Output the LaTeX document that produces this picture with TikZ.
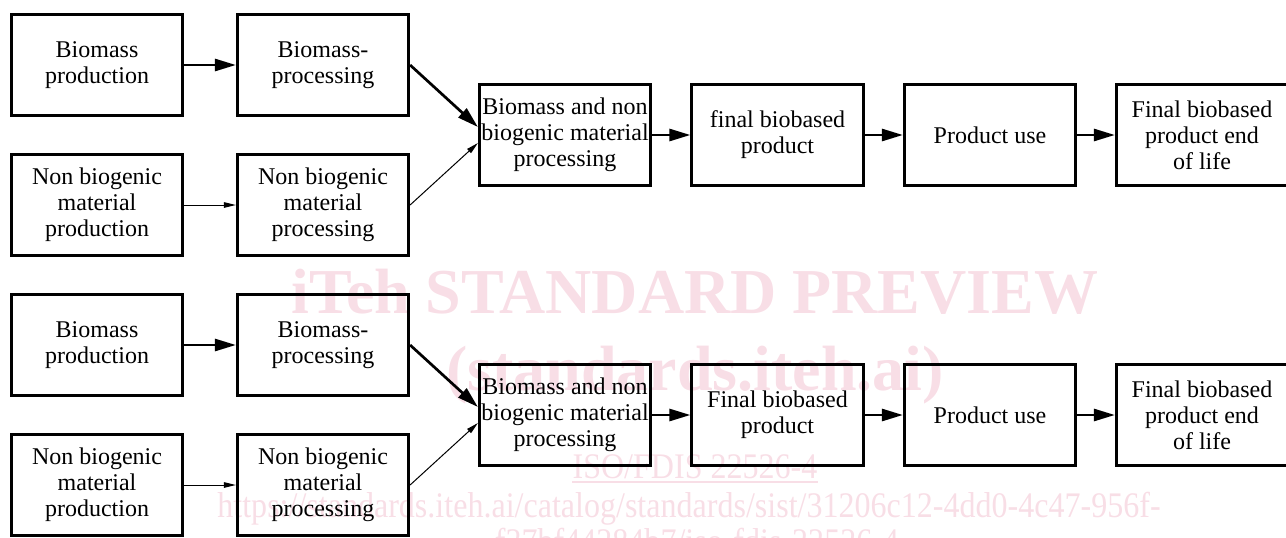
\documentclass[tikz,border=0pt]{standalone}
\usepackage{fontspec}
\setmainfont{Liberation Serif}
\usepackage{graphicx}
\usetikzlibrary{arrows.meta,calc}
\definecolor{wmpink}{RGB}{248,222,230}
\begin{document}
\begin{tikzpicture}[x=1pt,y=-1pt,
  box/.style={draw=black, line width=2.7pt, minimum width=171.5pt, minimum height=101.5pt,
    align=center, inner sep=1.5pt, font=\fontsize{24}{26}\selectfont},
  bigarrow/.style={line width=2.7pt, -{Triangle[length=21pt,width=12pt]}},
  smallarrow/.style={line width=1pt, -{Triangle[length=12pt,width=5.5pt]}},
  wmbold/.style={text=wmpink, inner sep=0pt, anchor=base, font=\bfseries\fontsize{64}{64}\selectfont},
  wmreg/.style={text=wmpink, inner sep=0pt, anchor=base, font=\fontsize{36}{36}\selectfont},
  wmline/.style={draw=wmpink, line width=1.5pt}
]
\useasboundingbox (0,0) rectangle (1286,538);

% watermark
\node[wmbold] (w1) at (695,313) {iTeh STANDARD PREVIEW};
\node[wmbold] (w2) at (695,390) {(standards.iteh.ai)};
\node[wmreg] (w3) at (695,478) {\scalebox{0.89}[1]{ISO/FDIS 22526-4}};
\draw[wmline] ($(w3.base west)+(0,4)$) -- ($(w3.base east)+(0,4)$);
\node[wmreg] (w4) at (689,517) {\scalebox{0.89}[1]{https://standards.iteh.ai/catalog/standards/sist/31206c12-4dd0-4c47-956f-}};
\node[wmreg] (w5) at (697,553) {\scalebox{0.89}[1]{f37bf44284b7/iso-fdis-22526-4}};

% upper diagram
\node[box] (A1) at (97,65) {Biomass\\production};
\node[box] (B1) at (323,65) {Biomass-\\processing};
\node[box] (C1) at (97,205) {Non biogenic\\material\\production};
\node[box] (D1) at (323,205) {Non biogenic\\material\\processing};
\node[box] (E1) at (565,135) {Biomass and non\\biogenic material\\processing};
\node[box] (F1) at (777.5,135) {final biobased\\product};
\node[box] (G1) at (990,135) {Product use};
\node[box] (H1) at (1202,135) {Final biobased\\product end\\of life};

\draw[bigarrow] (A1) -- (B1);
\draw[smallarrow] (C1) -- (D1);
\draw[bigarrow] (B1.east) -- ($(E1.west)+(0,-8)$);
\draw[smallarrow] (D1.east) -- ($(E1.west)+(0,8)$);
\draw[bigarrow] (E1) -- (F1);
\draw[bigarrow] (F1) -- (G1);
\draw[bigarrow] (G1) -- (H1);

% lower diagram
\node[box] (A2) at (97,345) {Biomass\\production};
\node[box] (B2) at (323,345) {Biomass-\\processing};
\node[box] (C2) at (97,485) {Non biogenic\\material\\production};
\node[box] (D2) at (323,485) {Non biogenic\\material\\processing};
\node[box] (E2) at (565,415) {Biomass and non\\biogenic material\\processing};
\node[box] (F2) at (777.5,415) {Final biobased\\product};
\node[box] (G2) at (990,415) {Product use};
\node[box] (H2) at (1202,415) {Final biobased\\product end\\of life};

\draw[bigarrow] (A2) -- (B2);
\draw[smallarrow] (C2) -- (D2);
\draw[bigarrow] (B2.east) -- ($(E2.west)+(0,-8)$);
\draw[smallarrow] (D2.east) -- ($(E2.west)+(0,8)$);
\draw[bigarrow] (E2) -- (F2);
\draw[bigarrow] (F2) -- (G2);
\draw[bigarrow] (G2) -- (H2);
\end{tikzpicture}
\end{document}
